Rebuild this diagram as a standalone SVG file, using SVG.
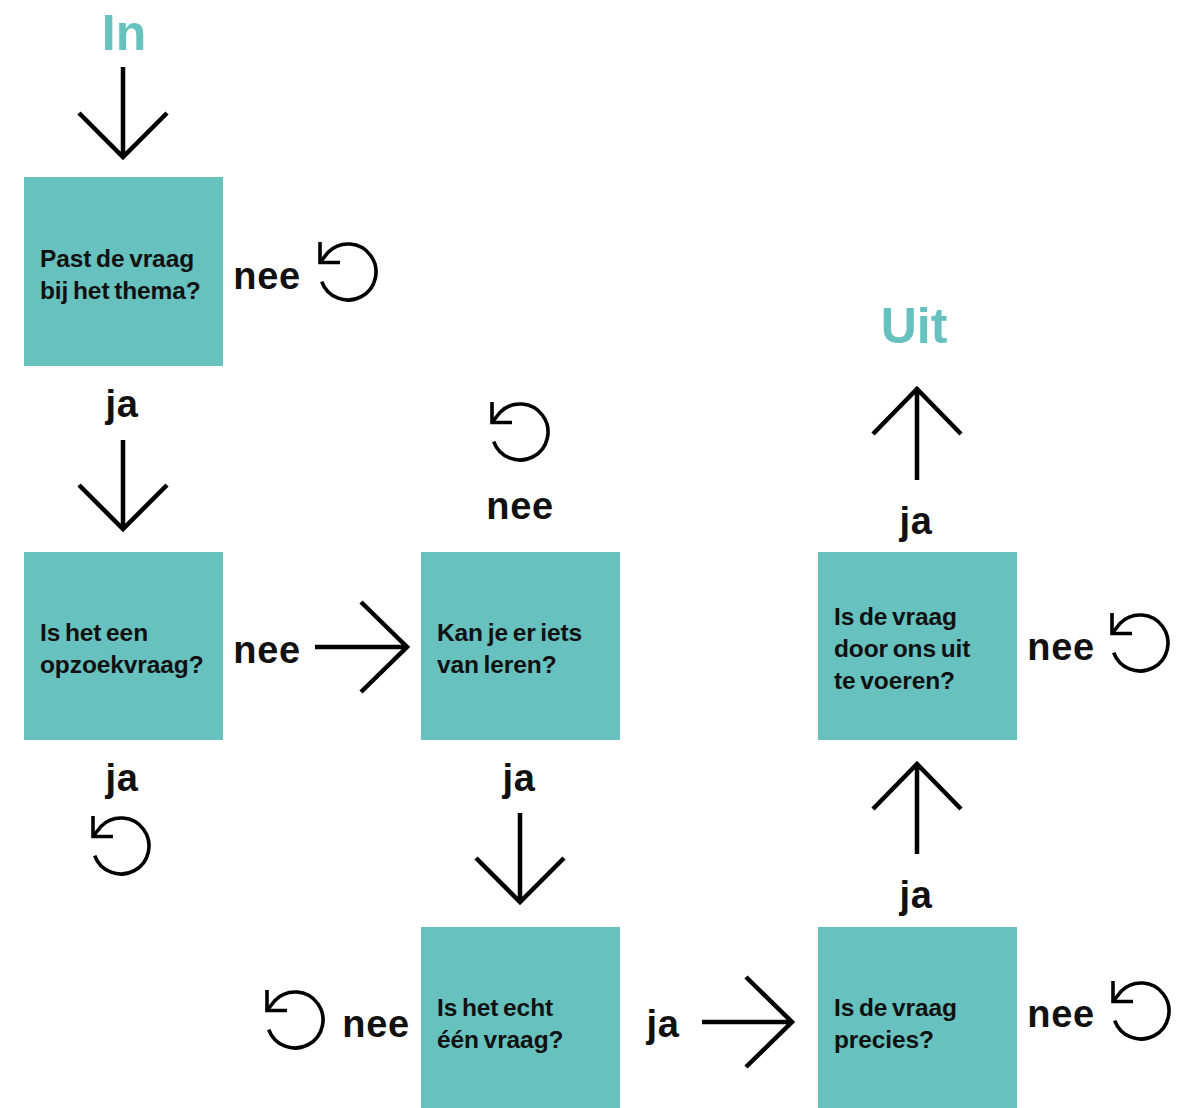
<svg xmlns="http://www.w3.org/2000/svg" width="1192" height="1108" viewBox="0 0 1192 1108">
<style>
.box{fill:#66c1bf}
.bt{font-family:"Liberation Sans",Arial,sans-serif;font-weight:bold;font-size:24.5px;fill:#111;word-spacing:-2px;letter-spacing:-0.1px}
.lbl{font-family:"Liberation Sans",Arial,sans-serif;font-weight:bold;font-size:38px;fill:#111;text-anchor:middle;letter-spacing:0.6px}
.io{font-family:"Liberation Sans",Arial,sans-serif;font-weight:bold;font-size:50px;fill:#66c1bf;text-anchor:middle}
.ar{fill:none;stroke:#000;stroke-width:4.5}
.lp{fill:none;stroke:#000;stroke-width:3.6}
</style>
<defs>
<g id="loop">
<path class="lp" d="M-26.3 9.6 A28 28 0 1 0 -19.8 -19.8 L-28 -9.5"/>
<path class="lp" d="M-28 -30 V-9.5 H-8"/>
</g>
</defs>
<text class="io" x="124" y="50">In</text>
<text class="io" x="914" y="343">Uit</text>
<g id="n1"><rect class="box" x="24" y="177" width="199" height="189"/><text class="bt" x="40" y="267">Past de vraag</text><text class="bt" x="40" y="299">bij het thema?</text></g>
<g id="n2"><rect class="box" x="24" y="552" width="199" height="188"/><text class="bt" x="40" y="641">Is het een</text><text class="bt" x="40" y="673">opzoekvraag?</text></g>
<g id="n3"><rect class="box" x="421" y="552" width="199" height="188"/><text class="bt" x="437" y="641">Kan je er iets</text><text class="bt" x="437" y="673">van leren?</text></g>
<g id="n4"><rect class="box" x="421" y="927" width="199" height="181"/><text class="bt" x="437" y="1016">Is het echt</text><text class="bt" x="437" y="1048">één vraag?</text></g>
<g id="n5"><rect class="box" x="818" y="927" width="199" height="181"/><text class="bt" x="834" y="1016">Is de vraag</text><text class="bt" x="834" y="1048">precies?</text></g>
<g id="n6"><rect class="box" x="818" y="552" width="199" height="188"/><text class="bt" x="834" y="625">Is de vraag</text><text class="bt" x="834" y="657">door ons uit</text><text class="bt" x="834" y="689">te voeren?</text></g>
<g id="connectors">
<path class="ar" d="M123 67 V157 M79 113 L123 157 L167 113"/>
<path class="ar" d="M123 440 V529 M79 485 L123 529 L167 485"/>
<path class="ar" d="M520 813 V902 M476 858 L520 902 L564 858"/>
<path class="ar" d="M917 480 V389 M873 434 L917 389 L961 434"/>
<path class="ar" d="M917 854 V764 M873 809 L917 764 L961 809"/>
<path class="ar" d="M315 647 H407 M361 602 L407 647 L361 692"/>
<path class="ar" d="M702 1022 H792 M746 977 L792 1022 L746 1067"/>
</g>
<g id="labels">
<text class="lbl" x="267" y="289">nee</text>
<text class="lbl" x="267" y="663">nee</text>
<text class="lbl" x="520" y="519">nee</text>
<text class="lbl" x="1061" y="660">nee</text>
<text class="lbl" x="376" y="1037">nee</text>
<text class="lbl" x="1061" y="1027">nee</text>
<text class="lbl" x="122" y="417">ja</text>
<text class="lbl" x="122" y="791">ja</text>
<text class="lbl" x="519" y="791">ja</text>
<text class="lbl" x="916" y="534">ja</text>
<text class="lbl" x="916" y="908">ja</text>
<text class="lbl" x="663" y="1037">ja</text>
</g>
<g id="loops">
<use href="#loop" x="348" y="272"/>
<use href="#loop" x="520" y="432"/>
<use href="#loop" x="1140" y="643"/>
<use href="#loop" x="121" y="846"/>
<use href="#loop" x="295" y="1020"/>
<use href="#loop" x="1141" y="1011"/>
</g>
</svg>
